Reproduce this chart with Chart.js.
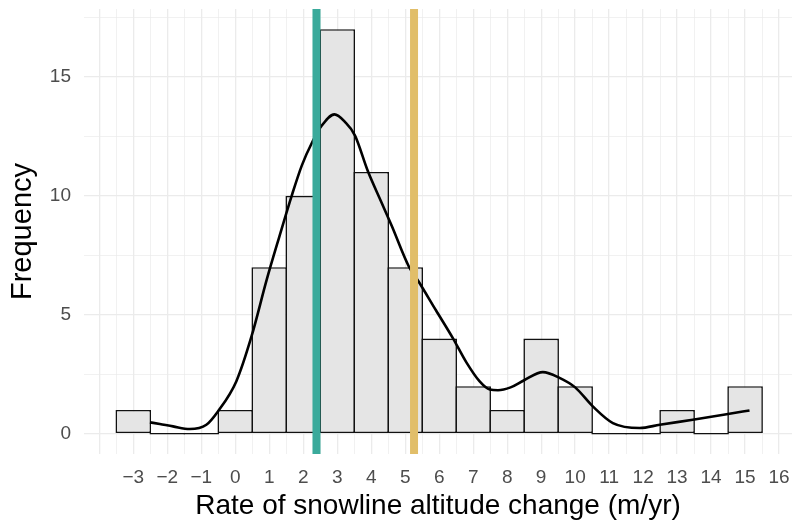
<!DOCTYPE html>
<html lang="en">
<head>
<meta charset="utf-8">
<title>Snowline altitude change histogram</title>
<script src="https://cdn.jsdelivr.net/npm/chart.js"></script>
<style>
  html,body{margin:0;padding:0;background:#fff;}
  #wrap{width:792px;height:523px;}
</style>
</head>
<body>
<div id="wrap"><canvas id="myChart" width="792" height="523"></canvas></div>
<script>
/* ── data ───────────────────────────────────────────────────────── */
const binCenters = [-3,-2,-1,0,1,2,3,4,5,6,7,8,9,10,11,12,13,14,15];
const binCounts  = [ 1, 0, 0,1,7,10,17,11,7,4,2,1,4,2,0,0,1,0,2];

// smoothed density, already scaled to counts
const densityX = [-2.51,-2.22,-1.83,-1.34,-0.85,-0.51,0.03,0.48,0.93,1.3,1.66,1.96,2.27,2.52,2.92,
                  3.23,3.52,3.9,4.3,4.6,5.11,5.38,5.9,6.41,6.8,7.19,7.49,7.73,8.1,8.5,9.05,9.54,
                  10.0,10.52,11.11,11.9,12.49,13.46,14.54,15.13];
const densityY = [0.48,0.41,0.31,0.2,0.38,0.94,2.2,4.1,6.5,8.3,10.0,11.28,12.27,12.9,13.42,
                  13.1,12.54,11.04,9.73,8.75,7.02,6.43,5.2,4.0,3.0,2.2,1.86,1.83,1.95,2.25,2.59,2.35,
                  1.95,1.15,0.45,0.24,0.38,0.59,0.84,0.98];

// vertical reference lines
const refValues = [2.39, 5.26];
const refColors = ['#3AAA9B', '#E1BE69'];

// axis breaks
const xBreaks = [-3,-2,-1,0,1,2,3,4,5,6,7,8,9,10,11,12,13,14,15,16];
const yBreaks = [0,5,10,15];

/* ── helpers ────────────────────────────────────────────────────── */
const GRID = '#EBEBEB';
const fmt = v => (v < 0 ? '\u2212' + Math.abs(v) : String(v));

// minor gridlines halfway between breaks, plus one step outside
function withMinor(br, lo, hi){
  const step = br[1] - br[0];
  const all = [];
  for(let v = br[0] - step; v <= br[br.length-1] + step; v += step/2){
    if(v >= lo && v <= hi) all.push(v);
  }
  return all;
}
const tickVal = c => (c && c.tick ? c.tick.value : NaN);

const X_MIN = -4.45, X_MAX = 16.38, Y_MIN = -0.85, Y_MAX = 17.85;

/* ── plugin: reference lines over everything ───────────────────── */
const refLinePlugin = {
  id:'refLines',
  afterDatasetsDraw(chart){
    const {ctx, chartArea:a, scales:{x}} = chart;
    ctx.save();
    refValues.forEach((v,i)=>{
      const px = x.getPixelForValue(v);
      ctx.strokeStyle = refColors[i];
      ctx.lineWidth = 8;
      ctx.beginPath();
      ctx.moveTo(px, a.top);
      ctx.lineTo(px, a.bottom);
      ctx.stroke();
    });
    ctx.restore();
  }
};

/* ── chart ──────────────────────────────────────────────────────── */
const BW = 1.6;
const FONT = '"Liberation Sans", Arial, sans-serif';
new Chart(document.getElementById('myChart'), {
  type:'bar',
  data:{
    datasets:[
      {
        type:'line',
        data: densityX.map((x,i)=>({x, y:densityY[i]})),
        borderColor:'#000',
        borderWidth:2.6,
        pointRadius:0,
        tension:0.4,
        cubicInterpolationMode:'monotone',
        order:1
      },
      {
        type:'bar',
        data: binCenters.map((x,i)=>({x, y:binCounts[i]})),
        backgroundColor:'#E5E5E5',
        borderColor:'#111',
        borderWidth:BW,
        borderSkipped:false,
        minBarLength:BW,
        // ruler spacing is the half-unit gridline step, so 2x covers a full bin
        barPercentage:2 + BW/17,
        categoryPercentage:1,
        order:2
      }
    ]
  },
  options:{
    responsive:false,
    animation:false,
    layout:{padding:{left:0,right:0,top:9,bottom:0}},
    plugins:{legend:{display:false}, tooltip:{enabled:false}},
    scales:{
      x:{
        type:'linear', min:X_MIN, max:X_MAX, offset:false,
        border:{display:false},
        grid:{
          color:GRID, drawTicks:false, offset:false,
          lineWidth: c => (Number.isInteger(tickVal(c)) ? 1.3 : 0.7)
        },
        afterBuildTicks: s => { s.ticks = withMinor(xBreaks, X_MIN, X_MAX).map(v=>({value:v})); },
        afterFit: s => { s.height = 69; s.paddingLeft = 0; s.paddingRight = 0; },
        ticks:{
          autoSkip:false, maxRotation:0, padding:12,
          color:'#4D4D4D',
          font:{family:FONT, size:19},
          callback: v => (xBreaks.includes(v) ? fmt(v) : '')
        },
        title:{
          display:true, text:'Rate of snowline altitude change (m/yr)',
          color:'#000', padding:{top:0,bottom:0},
          font:{family:FONT, size:28}
        }
      },
      y:{
        type:'linear', min:Y_MIN, max:Y_MAX,
        border:{display:false},
        grid:{
          color:GRID, drawTicks:false,
          lineWidth: c => (yBreaks.includes(tickVal(c)) ? 1.3 : 0.7)
        },
        afterBuildTicks: s => { s.ticks = withMinor(yBreaks, Y_MIN, Y_MAX).map(v=>({value:v})); },
        afterFit: s => { s.width = 84; s.paddingTop = 0; s.paddingBottom = 0; },
        ticks:{
          autoSkip:false, padding:13,
          color:'#4D4D4D',
          font:{family:FONT, size:19},
          callback: v => (yBreaks.includes(v) ? fmt(v) : '')
        },
        title:{
          display:true, text:'Frequency',
          color:'#000', padding:{top:6,bottom:0},
          font:{family:FONT, size:29}
        }
      }
    }
  },
  plugins:[refLinePlugin]
});
</script>
</body>
</html>
